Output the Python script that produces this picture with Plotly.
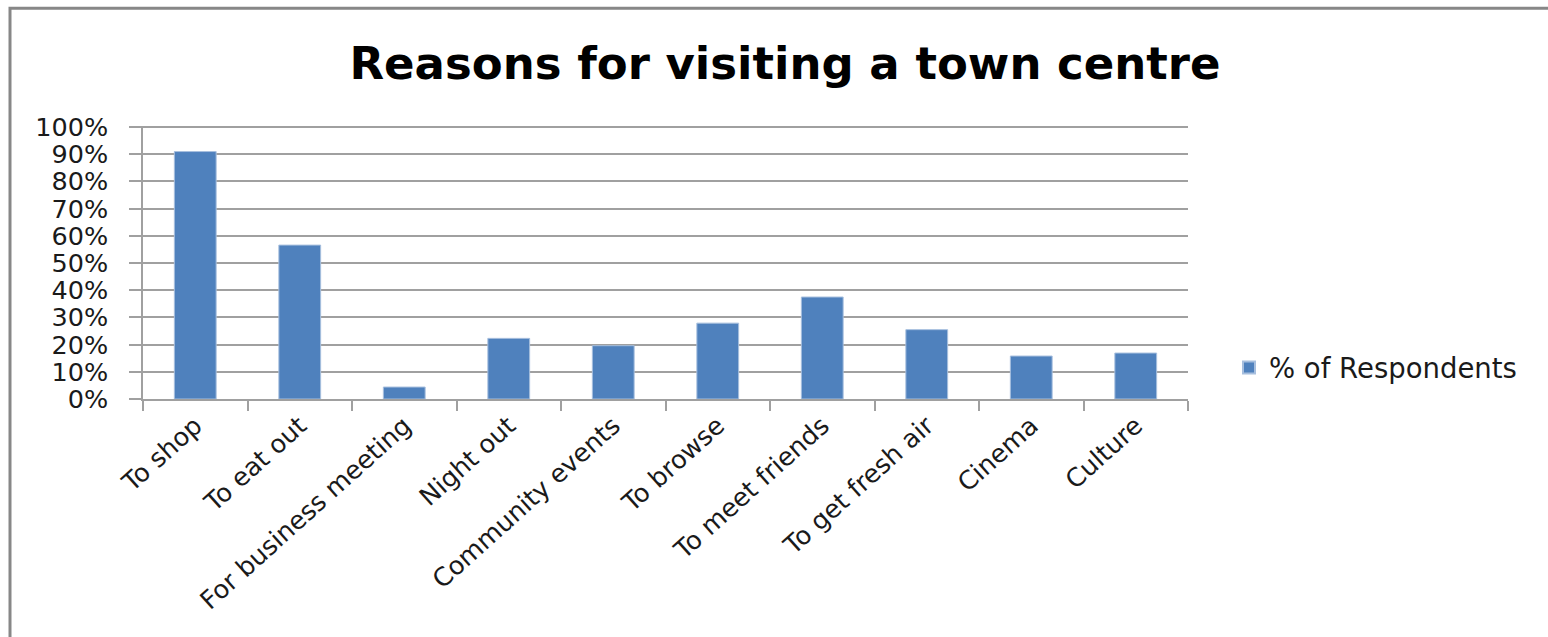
import plotly.graph_objects as go

categories = ["To shop", "To eat out", "For business meeting", "Night out",
              "Community events", "To browse", "To meet friends",
              "To get fresh air", "Cinema", "Culture"]
respondents = [0.91, 0.566, 0.044, 0.223, 0.196, 0.279, 0.375, 0.255, 0.158, 0.169]
y_ticks = [0, 0.1, 0.2, 0.3, 0.4, 0.5, 0.6, 0.7, 0.8, 0.9, 1.0]
y_tick_labels = ["0%", "10%", "20%", "30%", "40%", "50%", "60%", "70%", "80%", "90%", "100%"]

W, H = 1548, 637
L, R, T, B = 143, 360, 126, 237.5
pw = W - L - R
ph = H - T - B

def px(x):
    return (x - L) / pw

def py(y):
    return (H - B - y) / ph

fig = go.Figure()
fig.add_trace(go.Bar(
    x=categories, y=respondents, name="% of Respondents",
    marker=dict(color="#4F81BD", line=dict(color="#A7BFDE", width=1)),
    showlegend=True,
))

fig.update_layout(
    width=W, height=H,
    margin=dict(l=L, r=R, t=T, b=B),
    paper_bgcolor="white", plot_bgcolor="white",
    font=dict(family="DejaVu Sans", color="#1a1a1a"),
    bargap=0.6,
    showlegend=True,
    title=dict(text="<b>Reasons for visiting a town centre</b>",
               x=785 / W, xanchor="center", y=1 - 63 / H, yanchor="middle",
               font=dict(family="DejaVu Sans", size=45, color="#000000")),
    legend=dict(x=px(1229), y=py(368), xanchor="left", yanchor="middle",
                font=dict(size=27.5, color="#1a1a1a"), bgcolor="rgba(0,0,0,0)",
                itemsizing="constant"),
    xaxis=dict(
        type="category", tickangle=-42, tickfont=dict(size=25.5, color="#1a1a1a"),
        ticks="outside", tickson="boundaries", ticklen=10, tickcolor="#A0A0A0",
        tickwidth=1.5, showline=True, linecolor="#A0A0A0", linewidth=1.5,
        showgrid=False, zeroline=False,
    ),
    yaxis=dict(
        range=[0, 1.004], tickvals=y_ticks, ticktext=y_tick_labels,
        tickfont=dict(size=25.5, color="#1a1a1a"),
        ticks="outside", ticklen=12, tickcolor="#A0A0A0", tickwidth=1.5,
        ticklabelstandoff=16,
        showline=True, linecolor="#A0A0A0", linewidth=1.5,
        showgrid=True, gridcolor="#A0A0A0", gridwidth=1.5, zeroline=False,
    ),
    shapes=[dict(type="rect", xref="paper", yref="paper",
                 x0=px(10), x1=px(1600), y0=py(8), y1=py(700),
                 line=dict(color="#878787", width=3), fillcolor="rgba(0,0,0,0)",
                 layer="below")],
)

fig.write_html("out.html")
